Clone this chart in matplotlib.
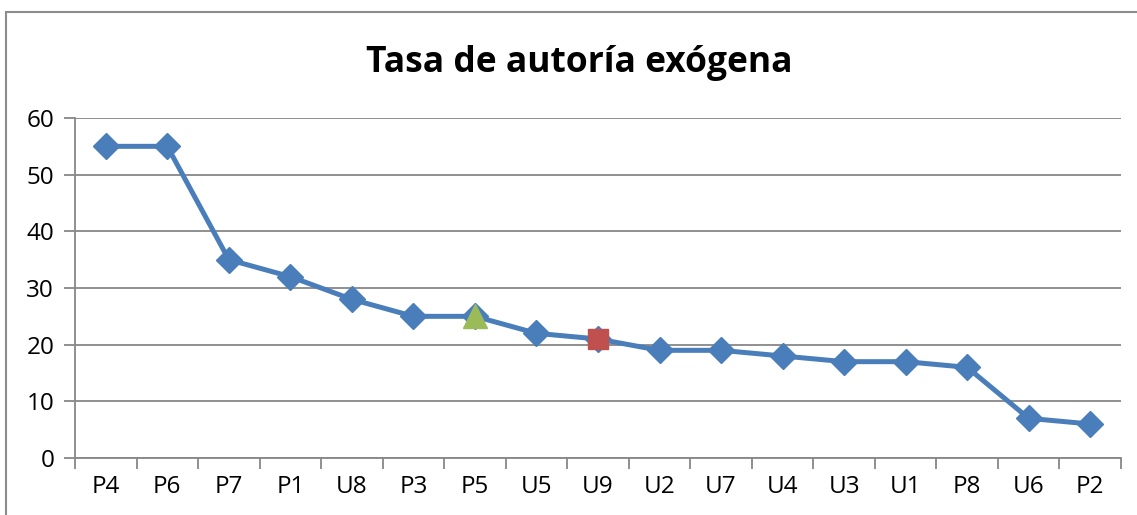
from matplotlib import pyplot as plt
from matplotlib.patches import Rectangle
import numpy as np

categories = ['P4', 'P6', 'P7', 'P1', 'U8', 'P3', 'P5', 'U5', 'U9',
              'U2', 'U7', 'U4', 'U3', 'U1', 'P8', 'U6', 'P2']
values = [55, 55, 35, 32, 28, 25, 25, 22, 21, 19, 19, 18, 17, 17, 16, 7, 6]
highlight_triangle = 'P5'
highlight_square = 'U9'

BLUE = '#4A7EBB'
GREEN = '#9BBB59'
RED = '#C0504D'
GRID = '#878787'


def main():
    plt.rcParams['font.family'] = ['Open Sans', 'DejaVu Sans']
    fig = plt.figure(figsize=(11.37, 5.15), dpi=100)

    # outer chart border (cut off at right and bottom)
    fig.patches.append(Rectangle((6 / 1137, -0.2), 1.2, 1.2 - 12 / 515,
                                 transform=fig.transFigure, fill=False,
                                 edgecolor='#8c8c8c', linewidth=1.5))

    ax = fig.add_axes([75 / 1137, 57 / 515, 1046 / 1137, 340 / 515])
    x = np.arange(len(categories))
    ax.plot(x, values, color=BLUE, linewidth=3.6, marker='D',
            markersize=13, markerfacecolor=BLUE, markeredgecolor=BLUE,
            zorder=3)

    i = categories.index(highlight_triangle)
    ax.plot(x[i], values[i], marker='^', markersize=17, color=GREEN,
            linestyle='none', zorder=4)
    i = categories.index(highlight_square)
    ax.plot(x[i], values[i], marker='s', markersize=15, color=RED,
            linestyle='none', zorder=4)

    ax.set_xlim(-0.5, len(categories) - 0.5)
    ax.set_ylim(0, 60)
    ax.set_yticks(range(0, 61, 10))
    ax.yaxis.grid(True, color=GRID, linewidth=1.3)
    ax.set_axisbelow(True)

    ax.set_xticks(np.arange(-0.5, len(categories)), labels=[])
    ax.set_xticks(x, labels=categories, minor=True)
    ax.tick_params(axis='x', which='major', length=8, width=1.3,
                   color=GRID)
    ax.tick_params(axis='x', which='minor', length=0, pad=12,
                   labelsize=17.5)
    ax.tick_params(axis='y', length=8, width=1.3, color=GRID,
                   labelsize=17.5, pad=7)

    for side in ('top', 'right'):
        ax.spines[side].set_visible(False)
    for side in ('left', 'bottom'):
        ax.spines[side].set_color(GRID)
        ax.spines[side].set_linewidth(1.3)

    fig.text(579 / 1137, 1 - 63 / 515, 'Tasa de autoría exógena',
             ha='center', va='center', fontsize=25.5, fontweight='bold')

    fig.savefig('out.png', dpi=100)


if __name__ == '__main__':
    main()
